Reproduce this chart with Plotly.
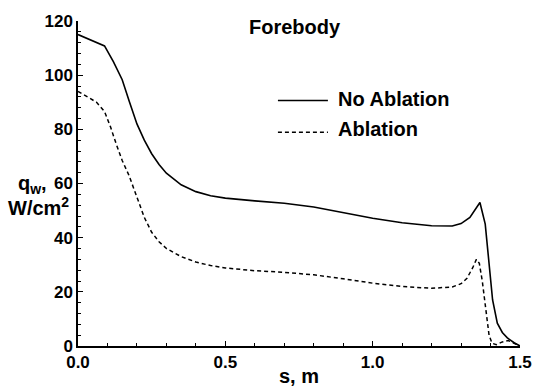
import plotly.graph_objects as go

# --- data ---
s_no_ablation = [0.0, 0.045, 0.09, 0.12, 0.15, 0.175, 0.2, 0.225, 0.25, 0.275, 0.3, 0.35, 0.4, 0.45,
                 0.5, 0.6, 0.7, 0.8, 0.9, 1.0, 1.1, 1.2, 1.27, 1.3, 1.33, 1.35, 1.364, 1.382, 1.395,
                 1.407, 1.423, 1.44, 1.457, 1.48, 1.5]
q_no_ablation = [115, 113, 110.8, 105, 98.3, 90, 82, 76, 71, 67, 63.8, 59.5, 57, 55.5,
                 54.6, 53.6, 52.7, 51.3, 49.3, 47.2, 45.5, 44.4, 44.3, 45.2, 47.5, 50.5, 53, 45, 29,
                 17, 8.4, 5, 3, 1.2, 0]

s_ablation = [0.0, 0.03, 0.063, 0.09, 0.11, 0.13, 0.15, 0.173, 0.2, 0.225, 0.25, 0.275, 0.3, 0.35,
              0.4, 0.45, 0.5, 0.6, 0.7, 0.8, 0.9, 1.0, 1.1, 1.2, 1.27, 1.3, 1.32, 1.34, 1.352,
              1.362, 1.372, 1.38, 1.388, 1.395, 1.405, 1.42, 1.44, 1.46, 1.48, 1.5]
q_ablation = [94, 92, 90, 86.6, 81, 74.5, 68.5, 63, 55, 47.5, 42, 38.5, 36, 33,
              31, 29.7, 28.8, 27.8, 27.2, 26.3, 24.8, 23.2, 22, 21.3, 21.8, 23, 25, 29, 32,
              30.5, 24, 17, 9, 4, 1, 0.5, 1.5, 2, 1, 0]

x_ticks = [0.0, 0.5, 1.0, 1.5]
x_ticklabels = ["0.0", "0.5", "1.0", "1.5"]
y_ticks = [0, 20, 40, 60, 80, 100, 120]
series_names = ["No Ablation", "Ablation"]
title_text = "Forebody"
x_title = "s, m"

FONT = "Liberation Sans, Arial, Helvetica, sans-serif"

# plot area geometry (pixels)
W, H = 544, 389
L, R, T, B = 78, 15, 19, 43
pw, ph = W - L - R, H - T - B


def px_x(p):
    return (p - L) / pw


def px_y(p):
    return (H - B - p) / ph


fig = go.Figure()
fig.add_trace(go.Scatter(x=s_no_ablation, y=q_no_ablation, mode="lines", name=series_names[0],
                         line=dict(color="black", width=1.6), showlegend=False))
fig.add_trace(go.Scatter(x=s_ablation, y=q_ablation, mode="lines", name=series_names[1],
                         line=dict(color="black", width=1.5, dash="4px,3px"), showlegend=False))

axis_common = dict(showgrid=False, zeroline=False, showline=True, linecolor="black", linewidth=1.5,
                   ticks="inside", tickcolor="black", tickwidth=1.2, ticklen=5,
                   tickfont=dict(family=FONT, size=17, color="black", weight="bold"))

fig.update_xaxes(range=[0, 1.5], tickvals=x_ticks, ticktext=x_ticklabels,
                 minor=dict(dtick=0.1, ticks="inside", ticklen=3, tickcolor="black", tickwidth=1),
                 **axis_common)
fig.update_yaxes(range=[0, 120], tickvals=y_ticks,
                 minor=dict(dtick=4, ticks="inside", ticklen=3, tickcolor="black", tickwidth=1),
                 **axis_common)

annotations = [
    dict(text=title_text, x=px_x(299), y=px_y(25), xanchor="center", yanchor="middle",
         font=dict(size=20)),
    dict(text=series_names[0], x=px_x(341), y=px_y(97), xanchor="left", yanchor="middle",
         font=dict(size=20)),
    dict(text=series_names[1], x=px_x(341), y=px_y(128), xanchor="left", yanchor="middle",
         font=dict(size=20)),
    dict(text=x_title, x=px_x(303), y=px_y(376), xanchor="center", yanchor="middle",
         font=dict(size=20)),
    dict(text="q<sub>w</sub>,", x=px_x(15), y=px_y(184), xanchor="left", yanchor="middle",
         font=dict(size=20)),
    dict(text="W/cm<sup>2</sup>", x=px_x(5), y=px_y(206), xanchor="left", yanchor="middle",
         font=dict(size=20)),
]
for a in annotations:
    a.update(xref="paper", yref="paper", showarrow=False)
    a["font"].update(family=FONT, color="black", weight="bold")

shapes = [
    dict(type="line", xref="paper", yref="paper", x0=px_x(282), x1=px_x(333), y0=px_y(99), y1=px_y(99),
         line=dict(color="black", width=1.5)),
    dict(type="line", xref="paper", yref="paper", x0=px_x(282), x1=px_x(333), y0=px_y(131), y1=px_y(131),
         line=dict(color="black", width=1.5, dash="4px,3px")),
]

fig.update_layout(width=W, height=H, margin=dict(l=L, r=R, t=T, b=B),
                  paper_bgcolor="white", plot_bgcolor="white",
                  font=dict(family=FONT, color="black"),
                  annotations=annotations, shapes=shapes, showlegend=False)

fig.write_html("out.html")
